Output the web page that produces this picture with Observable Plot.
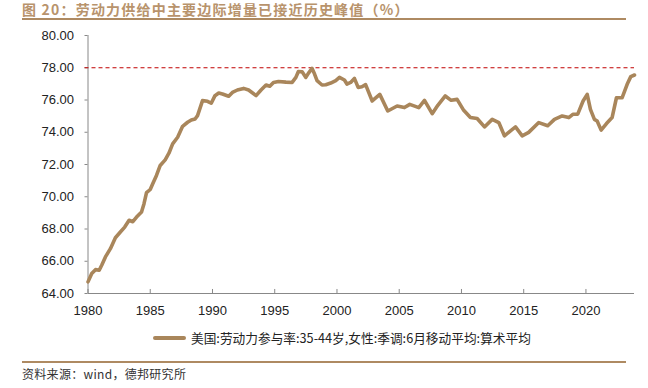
<!DOCTYPE html>
<html>
<head>
<meta charset="utf-8">
<script src="https://cdn.jsdelivr.net/npm/d3@7"></script>
<script src="https://cdn.jsdelivr.net/npm/@observablehq/plot@0.6"></script>
<style>
  html, body { margin: 0; padding: 0; background: #fff; }
  #wrap { position: relative; width: 648px; height: 388px; overflow: hidden; font-family: "Liberation Sans", Arial, sans-serif; }
  #title { position: absolute; left: 22px; top: 2px; font-family: "Noto Sans CJK SC", sans-serif; font-weight: bold; font-size: 14px; line-height: 15px; letter-spacing: 1.2px; color: #b8936c; white-space: nowrap; }
  #tline { position: absolute; left: 22px; top: 18px; width: 604px; height: 1.5px; background: #ae8a62; }
  #chart { position: absolute; left: 0; top: 0; }
  #legend { position: absolute; left: 153px; top: 330px; display: flex; align-items: center; white-space: nowrap; }
  #legend .sw { width: 33px; height: 4px; background: #a9865b; border-radius: 2px; margin-right: 5px; }
  #legend .tx { font-family: "Noto Sans CJK SC", sans-serif; font-size: 12.7px; color: #222; line-height: 16px; }
  #bline { position: absolute; left: 22px; top: 361px; width: 604px; height: 1.5px; background: #ae8a62; }
  #source { position: absolute; left: 22px; top: 366px; font-family: "Noto Sans CJK SC", sans-serif; font-size: 12px; line-height: 16px; letter-spacing: 0.3px; color: #333; white-space: nowrap; }
</style>
</head>
<body>
<div id="wrap">
  <div id="chart"></div>
  <div id="title"></div>
  <div id="tline"></div>
  <div id="legend"><div class="sw"></div><div class="tx"></div></div>
  <div id="bline"></div>
  <div id="source"></div>
</div>
<script>
const titleText = "图 20：劳动力供给中主要边际增量已接近历史峰值（%）";
const seriesName = "美国:劳动力参与率:35-44岁,女性:季调:6月移动平均:算术平均";
const sourceText = "资料来源：wind，德邦研究所";

const years = [
  1980.0, 1980.3, 1980.6, 1980.9, 1981.1, 1981.4, 1981.8, 1982.2, 1982.6, 1982.95,
  1983.3, 1983.6, 1983.9, 1984.3, 1984.5, 1984.7, 1985.0, 1985.2, 1985.5, 1985.8,
  1986.2, 1986.5, 1986.8, 1987.2, 1987.6, 1988.0, 1988.3, 1988.6, 1988.8, 1989.2,
  1989.6, 1989.9, 1990.2, 1990.5, 1990.8, 1991.3, 1991.6, 1992.0, 1992.5, 1992.9,
  1993.5, 1993.9, 1994.3, 1994.6, 1994.9, 1995.3, 1995.9, 1996.4, 1996.7, 1996.9,
  1997.2, 1997.5, 1997.7, 1998.0, 1998.2, 1998.4, 1998.8, 1999.1, 1999.5, 1999.9,
  2000.2, 2000.6, 2000.8, 2001.1, 2001.4, 2001.7, 2002.0, 2002.3, 2002.83, 2003.44,
  2004.08, 2004.83, 2005.42, 2005.85, 2006.57, 2007.03, 2007.65, 2008.1, 2008.7, 2009.17,
  2009.65, 2010.18, 2010.72, 2011.26, 2011.85, 2012.47, 2013.0, 2013.45, 2013.94, 2014.34,
  2014.88, 2015.4, 2016.21, 2016.93, 2017.47, 2018.09, 2018.62, 2018.97, 2019.34, 2019.77,
  2020.1, 2020.36, 2020.68, 2020.9, 2021.22, 2021.65, 2022.1, 2022.45, 2022.91, 2023.31,
  2023.6, 2023.9
];
const values = [
  64.72, 65.24, 65.48, 65.44, 65.75, 66.27, 66.78, 67.46, 67.81, 68.12,
  68.54, 68.45, 68.74, 69.05, 69.57, 70.25, 70.45, 70.80, 71.32, 71.94,
  72.29, 72.70, 73.28, 73.69, 74.37, 74.62, 74.76, 74.82, 75.03, 75.96,
  75.92, 75.80, 76.27, 76.43, 76.37, 76.23, 76.47, 76.62, 76.72, 76.62,
  76.27, 76.62, 76.93, 76.85, 77.09, 77.15, 77.11, 77.09, 77.40, 77.77,
  77.75, 77.40, 77.65, 77.96, 77.61, 77.20, 76.93, 76.95, 77.05, 77.20,
  77.40, 77.24, 76.99, 77.09, 77.34, 76.78, 76.82, 76.95, 75.94, 76.35,
  75.32, 75.63, 75.53, 75.73, 75.53, 75.98, 75.15, 75.67, 76.25, 75.98,
  76.04, 75.36, 74.91, 74.85, 74.33, 74.80, 74.60, 73.78, 74.09, 74.33,
  73.78, 73.99, 74.60, 74.40, 74.80, 75.01, 74.91, 75.12, 75.12, 75.94,
  76.35, 75.42, 74.80, 74.70, 74.13, 74.54, 74.91, 76.14, 76.14, 76.97,
  77.45, 77.55
];
const xTicks = [1980, 1985, 1990, 1995, 2000, 2005, 2010, 2015, 2020];
const yTicks = [64, 66, 68, 70, 72, 74, 76, 78, 80];
const peakLevel = [78];

document.getElementById("title").textContent = titleText;
document.querySelector("#legend .tx").textContent = seriesName;
document.getElementById("source").textContent = sourceText;

const data = years.map((y, i) => ({year: y, value: values[i]}));

const chart = Plot.plot({
  width: 648,
  height: 388,
  marginLeft: 87.5,
  marginRight: 14,
  marginTop: 35,
  marginBottom: 95,
  style: {fontFamily: "'Liberation Sans', Arial, sans-serif", fontSize: "13px", color: "#222", background: "transparent"},
  x: {domain: [1980, 2023.9]},
  y: {domain: [64, 80]},
  marks: [
    Plot.axisY(yTicks, {tickFormat: d => d.toFixed(2), tickSize: 3, tickPadding: 11, stroke: "#888", fill: "#222", fontSize: 13, label: null}),
    Plot.axisX(xTicks, {tickFormat: d => String(d), tickSize: 0, tickPadding: 12, fill: "#222", fontSize: 13, label: null}),
    Plot.ruleX(xTicks, {y1: 64, y2: 64.25, stroke: "#888", strokeWidth: 1}),
    Plot.ruleX([1980], {y1: 64, y2: 80, stroke: "#888", strokeWidth: 1}),
    Plot.ruleY([64], {stroke: "#888", strokeWidth: 1}),
    Plot.ruleY(peakLevel, {stroke: "#c00000", strokeWidth: 1, strokeDasharray: "4,3", insetLeft: -3}),
    Plot.line(data, {x: "year", y: "value", stroke: "#a9865b", strokeWidth: 3.6, curve: "linear", strokeLinejoin: "round"})
  ]
});
document.getElementById("chart").appendChild(chart);
</script>
</body>
</html>
